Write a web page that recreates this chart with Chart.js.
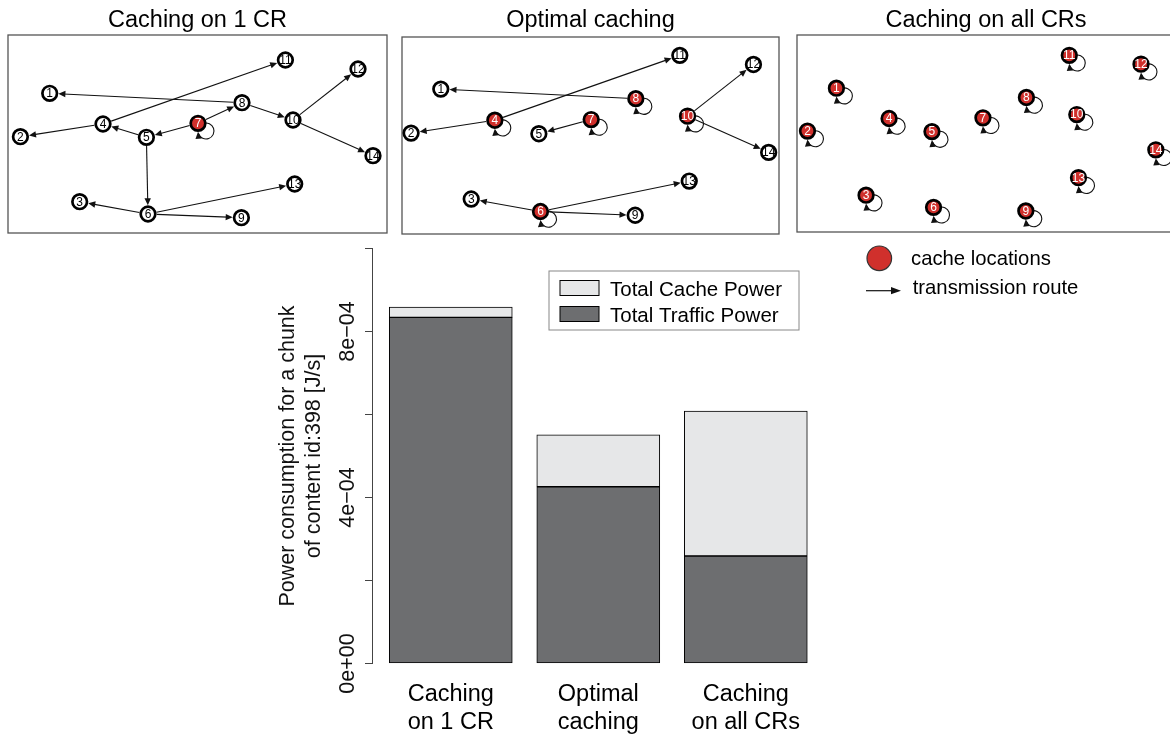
<!DOCTYPE html>
<html>
<head>
<meta charset="utf-8">
<title>Power consumption per caching strategy</title>
<script src="https://cdn.jsdelivr.net/npm/chart.js@4/dist/chart.umd.min.js"></script>
<style>
  html, body { margin: 0; padding: 0; background: #fff; overflow: hidden; }
  body { position: relative; width: 1170px; height: 734px; }
  canvas { position: absolute; }
</style>
</head>
<body>
<canvas id="net0"></canvas>
<canvas id="net1"></canvas>
<canvas id="net2"></canvas>
<canvas id="power"></canvas>
<script>
// --- power per strategy (J/s) ---
var strategies = [['Caching', 'on 1 CR'], ['Optimal', 'caching'], ['Caching', 'on all CRs']];
var trafficPower = [8.34e-4, 4.26e-4, 2.59e-4];
var cachePower = [0.25e-4, 1.25e-4, 3.49e-4];
var yTicks = [0, 2e-4, 4e-4, 6e-4, 8e-4, 10e-4];
var yLabels = [0, 4e-4, 8e-4];

// --- router layout, routers 1..14 ---
var nodeX = [41.7, 12.4, 71.7, 95, 138.4, 140, 190, 234, 233.4, 285, 277.4, 350, 286.7, 365];
var nodeY = [58.3, 101.7, 166.7, 89, 102.3, 179, 88.3, 67.7, 182.7, 85, 25, 34, 149, 120.7];

var panelTitles = ['Caching on 1 CR', 'Optimal caching', 'Caching on all CRs'];
var panelCaches = [
  [7],
  [4, 6, 7, 8, 10],
  [1, 2, 3, 4, 5, 6, 7, 8, 9, 10, 11, 12, 13, 14]
];
var panelRoutes = [
  [[7, 8], [7, 5], [8, 1], [8, 10], [10, 12], [10, 14], [5, 4], [4, 2], [4, 11], [5, 6], [6, 3], [6, 9], [6, 13]],
  [[8, 1], [4, 2], [4, 11], [7, 5], [10, 12], [10, 14], [6, 3], [6, 9], [6, 13]],
  []
];
var panelXRange = [[0, 379], [3.45, 375.2], [1.8, 384.4]];
var panelYRange = [[0, 198], [6.9, 201.2], [4.4, 204]];

// page boxes of the three network plots
var panelBoxes = [
  {left: 8, top: 35, width: 379, height: 198},
  {left: 402, top: 37, width: 377, height: 197},
  {left: 797, top: 35, width: 378, height: 197}
];

var RED = '#d0302c';
var FONT = '"Liberation Sans", Arial, Helvetica, sans-serif';
Chart.defaults.font.family = FONT;
Chart.defaults.color = '#000';

function arrowHead(ctx, x, y, ang, len, half) {
  var c = Math.cos(ang), s = Math.sin(ang);
  ctx.beginPath();
  ctx.moveTo(x, y);
  ctx.lineTo(x - len * c + half * s, y - len * s - half * c);
  ctx.lineTo(x - len * c - half * s, y - len * s + half * c);
  ctx.closePath();
  ctx.fill();
}

var routePlugin = {
  id: 'routes',
  beforeDraw: function (chart) {
    var a = chart.chartArea, ctx = chart.ctx;
    ctx.save();
    ctx.strokeStyle = '#555';
    ctx.lineWidth = 1.3;
    ctx.strokeRect(a.left, a.top, a.right - a.left, a.bottom - a.top);
    ctx.restore();
  },
  beforeDatasetsDraw: function (chart, args, opts) {
    var pts = chart.getDatasetMeta(0).data;
    var ctx = chart.ctx;
    var r = 8.7;
    ctx.save();
    ctx.strokeStyle = '#111';
    ctx.fillStyle = '#111';
    ctx.lineWidth = 1.1;
    opts.edges.forEach(function (e) {
      var p = pts[e[0] - 1], q = pts[e[1] - 1];
      var ang = Math.atan2(q.y - p.y, q.x - p.x);
      var c = Math.cos(ang), s = Math.sin(ang);
      var x1 = q.x - r * c, y1 = q.y - r * s;
      ctx.beginPath();
      ctx.moveTo(p.x + r * c, p.y + r * s);
      ctx.lineTo(x1 - 5 * c, y1 - 5 * s);
      ctx.stroke();
      arrowHead(ctx, x1, y1, ang, 7, 3.2);
    });
    // self loops on cache routers
    opts.loops.forEach(function (n) {
      var p = pts[n - 1];
      var cx = p.x + 8, cy = p.y + 7.7, lr = 8;
      var end = 175 * Math.PI / 180;
      ctx.beginPath();
      ctx.arc(cx, cy, lr, -110 * Math.PI / 180, 160 * Math.PI / 180);
      ctx.stroke();
      arrowHead(ctx, cx + lr * Math.cos(end), cy + lr * Math.sin(end), end + Math.PI / 2, 7, 3.2);
    });
    ctx.restore();
  },
  afterDatasetsDraw: function (chart, args, opts) {
    var pts = chart.getDatasetMeta(0).data;
    var ctx = chart.ctx;
    ctx.save();
    ctx.font = '12px ' + FONT;
    ctx.textAlign = 'center';
    ctx.textBaseline = 'middle';
    pts.forEach(function (p, i) {
      ctx.fillStyle = opts.loops.indexOf(i + 1) >= 0 ? '#fff' : '#000';
      ctx.fillText(String(i + 1), p.x, p.y + 0.5);
    });
    ctx.restore();
  }
};

panelTitles.forEach(function (title, k) {
  var box = panelBoxes[k];
  var cv = document.getElementById('net' + k);
  cv.width = box.width + 6;
  cv.height = box.top + box.height + 3;
  cv.style.left = (box.left - 3) + 'px';
  cv.style.top = '0px';
  var caches = panelCaches[k];
  new Chart(cv.getContext('2d'), {
    type: 'scatter',
    data: {
      datasets: [{
        data: nodeX.map(function (x, i) { return {x: x, y: nodeY[i]}; }),
        pointRadius: 7.3,
        pointHoverRadius: 7.3,
        pointBorderWidth: 2.7,
        pointBorderColor: '#000',
        pointBackgroundColor: nodeX.map(function (x, i) {
          return caches.indexOf(i + 1) >= 0 ? RED : '#fff';
        }),
        clip: false
      }]
    },
    options: {
      responsive: false,
      animation: false,
      events: [],
      layout: {autoPadding: false, padding: {left: 3, right: 3, top: 0, bottom: 3}},
      scales: {
        x: {display: false, min: panelXRange[k][0], max: panelXRange[k][1]},
        y: {display: false, reverse: true, min: panelYRange[k][0], max: panelYRange[k][1]}
      },
      plugins: {
        legend: {display: false},
        tooltip: {enabled: false},
        title: {
          display: true,
          text: title,
          color: '#000',
          font: {size: 23.5, weight: 'normal'},
          padding: {top: 6.6, bottom: box.top - 34.8}
        },
        routes: {edges: panelRoutes[k], loops: caches}
      }
    },
    plugins: [routePlugin]
  });
});

// R style exponent labels: 4e-04
function sci(v) {
  var parts = v.toExponential(0).split('e');
  var n = parseInt(parts[1], 10);
  return parts[0] + 'e' + (n < 0 ? '\u2212' : '+') + String(Math.abs(n)).padStart(2, '0');
}

var powerDecor = {
  id: 'powerDecor',
  afterDraw: function (chart) {
    var ctx = chart.ctx, ys = chart.scales.y, area = chart.chartArea;
    ctx.save();

    // rotated y tick labels
    ctx.font = '21.5px ' + FONT;
    ctx.fillStyle = '#111';
    ctx.textAlign = 'center';
    ctx.textBaseline = 'alphabetic';
    yLabels.forEach(function (v) {
      ctx.save();
      ctx.translate(area.left - 18, ys.getPixelForValue(v));
      ctx.rotate(-Math.PI / 2);
      ctx.fillText(sci(v), 0, 0);
      ctx.restore();
    });

    // bar legend, cache entry listed first
    var lx = area.left + 177, ly = area.top + 22.5;
    ctx.strokeStyle = '#888';
    ctx.lineWidth = 1;
    ctx.strokeRect(lx, ly, 250, 59);
    ctx.font = '20.5px ' + FONT;
    ctx.textAlign = 'left';
    var entries = chart.data.datasets.slice().reverse();
    entries.forEach(function (ds, i) {
      var cy = ly + 17 + i * 26;
      ctx.fillStyle = ds.backgroundColor;
      ctx.fillRect(lx + 11, cy - 7.5, 39, 15);
      ctx.strokeStyle = '#000';
      ctx.strokeRect(lx + 11, cy - 7.5, 39, 15);
      ctx.fillStyle = '#000';
      ctx.fillText(ds.label, lx + 61, cy + 7.5);
    });

    // network legend
    ctx.font = '20.3px ' + FONT;
    ctx.beginPath();
    ctx.arc(879.3, 18.3, 12.3, 0, Math.PI * 2);
    ctx.fillStyle = RED;
    ctx.fill();
    ctx.strokeStyle = '#333';
    ctx.lineWidth = 1.2;
    ctx.stroke();
    ctx.fillStyle = '#000';
    ctx.fillText('cache locations', 911, 25);
    ctx.strokeStyle = '#111';
    ctx.fillStyle = '#111';
    ctx.beginPath();
    ctx.moveTo(866, 50.7);
    ctx.lineTo(892, 50.7);
    ctx.stroke();
    arrowHead(ctx, 901, 50.7, 0, 10, 3.6);
    ctx.fillStyle = '#000';
    ctx.fillText('transmission route', 912.7, 54.3);
    ctx.restore();
  }
};

var pc = document.getElementById('power');
pc.width = 1170;
pc.height = 494;
pc.style.left = '0px';
pc.style.top = '240px';

new Chart(pc.getContext('2d'), {
  type: 'bar',
  data: {
    datasets: [{
      label: 'Total Traffic Power',
      data: trafficPower.map(function (v, i) { return {x: i, y: v}; }),
      backgroundColor: '#6d6e70'
    }, {
      label: 'Total Cache Power',
      data: cachePower.map(function (v, i) { return {x: i, y: v}; }),
      backgroundColor: '#e6e7e8'
    }]
  },
  options: {
    responsive: false,
    animation: false,
    events: [],
    layout: {padding: {left: 0, top: 8.5, right: 350, bottom: 0}},
    datasets: {bar: {barThickness: 123, borderColor: '#000', borderWidth: 1, borderSkipped: false}},
    plugins: {legend: {display: false}, tooltip: {enabled: false}},
    scales: {
      x: {
        type: 'linear',
        stacked: true,
        offset: false,
        min: -0.534,
        max: 2.503,
        grid: {display: false, offset: false},
        border: {display: false},
        afterBuildTicks: function (s) {
          s.ticks = strategies.map(function (x, i) { return {value: i}; });
        },
        afterFit: function (s) { s.height = 70.5; },
        ticks: {
          autoSkip: false,
          maxRotation: 0,
          padding: 9,
          color: '#000',
          font: {size: 23.5, lineHeight: 1.19},
          callback: function (v) { return strategies[v]; }
        }
      },
      y: {
        stacked: true,
        min: 0,
        max: 1e-3,
        afterBuildTicks: function (s) {
          s.ticks = yTicks.map(function (v) { return {value: v}; });
        },
        afterFit: function (s) { s.width = 372; },
        grid: {drawOnChartArea: false, drawTicks: true, tickLength: 7, color: '#444', lineWidth: 1},
        border: {display: true, color: '#444', width: 1},
        ticks: {display: false},
        title: {
          display: true,
          text: ['Power consumption for a chunk', 'of content id:398 [J/s]'],
          color: '#111',
          font: {size: 21.5},
          padding: {top: 275, bottom: 0}
        }
      }
    }
  },
  plugins: [powerDecor]
});
</script>
</body>
</html>
